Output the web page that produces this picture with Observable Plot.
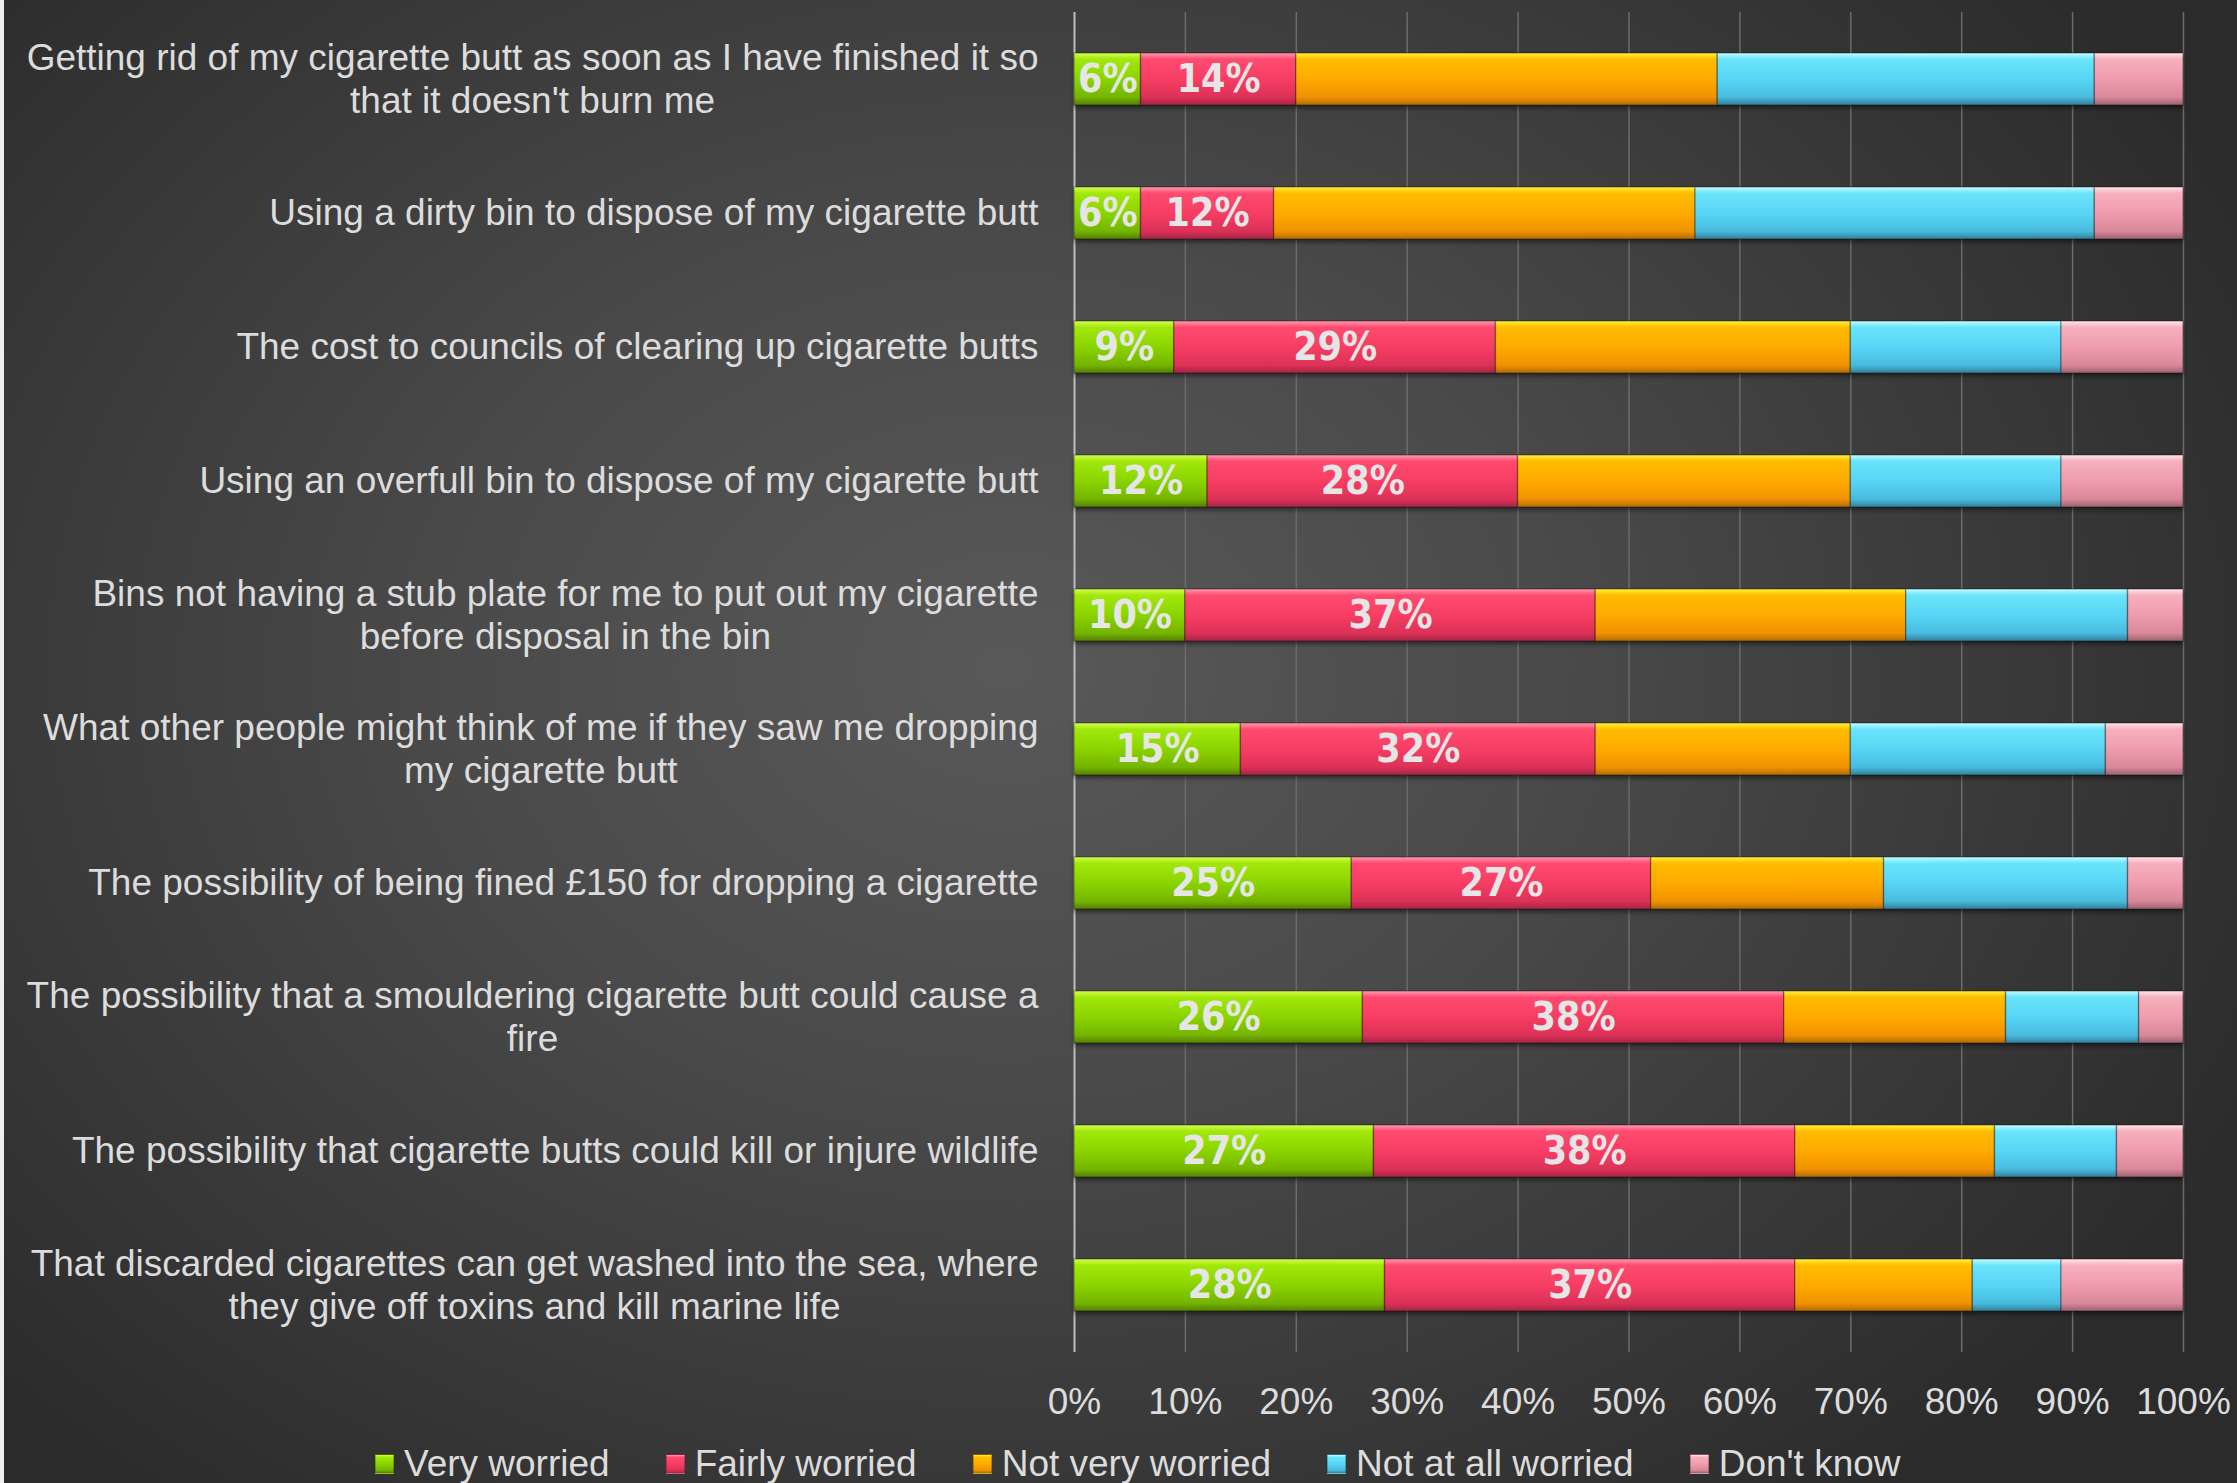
<!DOCTYPE html>
<html>
<head>
<meta charset="utf-8">
<script src="https://cdn.jsdelivr.net/npm/d3@7"></script>
<script src="https://cdn.jsdelivr.net/npm/@observablehq/plot@0.6"></script>
<style>
html, body { margin: 0; padding: 0; }
body {
  width: 2237px; height: 1483px; overflow: hidden; position: relative;
  background: radial-gradient(ellipse 62% 72% at 45% 45%, #595959 0%, #4a4a4a 40%, #2b2b2b 100%);
  font-family: "Liberation Sans", Arial, sans-serif;
}
#edge { position: absolute; left: 0; top: 0; width: 4px; height: 1483px; background: #efefef; }
#chart { position: absolute; left: 0; top: 0; }
#legend { position: absolute; left: 375px; top: 1443px; height: 42px; display: flex; align-items: center;
  color: #dcdcdc; font-size: 37px; white-space: nowrap; }
.item { display: flex; align-items: center; margin-right: 56px; }
.sw { width: 19px; height: 20px; margin-right: 10px; box-sizing: border-box; border: 1px solid rgba(0,0,0,0.25); }
</style>
</head>
<body>
<div id="edge"></div>
<div id="chart"></div>
<div id="legend"></div>
<script>
// ---------- data ----------
const categories = [
  "Getting rid of my cigarette butt as soon as I have finished it so that it doesn't burn me",
  "Using a dirty bin to dispose of my cigarette butt",
  "The cost to councils of clearing up cigarette butts",
  "Using an overfull bin to dispose of my cigarette butt",
  "Bins not having a stub plate for me to put out my cigarette before disposal in the bin",
  "What other people might think of me if they saw me dropping my cigarette butt",
  "The possibility of being fined £150 for dropping a cigarette",
  "The possibility that a smouldering cigarette butt could cause a fire",
  "The possibility that cigarette butts could kill or injure wildlife",
  "That discarded cigarettes can get washed into the sea, where they give off toxins and kill marine life"
];
const series = ["Very worried", "Fairly worried", "Not very worried", "Not at all worried", "Don't know"];
const veryWorried     = [6, 6, 9, 12, 10, 15, 25, 26, 27, 28];
const fairlyWorried   = [14, 12, 29, 28, 37, 32, 27, 38, 38, 37];
const notVeryWorried  = [38, 38, 32, 30, 28, 23, 21, 20, 18, 16];
const notAtAllWorried = [34, 36, 19, 19, 20, 23, 22, 12, 11, 8];
const dontKnow        = [8, 8, 11, 11, 5, 7, 5, 4, 6, 11];
const xTicks = [0, 10, 20, 30, 40, 50, 60, 70, 80, 90, 100];
const labeledSeries = ["Very worried", "Fairly worried"];

// ---------- palette (top highlight -> bottom shade) ----------
const palette = [
  ["#d6ff50", "#a2e80a", "#8ad400", "#74b400", "#557f00"],
  ["#ff9ab0", "#ff4a70", "#f73d63", "#dc3157", "#a82444"],
  ["#fff23a", "#ffbc00", "#ffaa00", "#f09200", "#b46c00"],
  ["#c4fdff", "#6ae4fb", "#58d5f5", "#48bbde", "#337f98"],
  ["#ffe6ec", "#f7b0bd", "#ef9dad", "#d88898", "#9c6270"]
];
const stopOffsets = [0, 0.12, 0.5, 0.85, 1];

const valuesBySeries = [veryWorried, fairlyWorried, notVeryWorried, notAtAllWorried, dontKnow];
const rows = categories.flatMap((c, i) => series.map((s, j) => ({category: c, series: s, value: valuesBySeries[j][i]})));

// ---------- wrapping of category labels ----------
const ctx = document.createElement("canvas").getContext("2d");
ctx.font = "37px 'Liberation Sans', Arial, sans-serif";
function wrap(s, maxW = 1030) {
  const words = s.split(" ");
  const lines = [];
  let cur = "";
  for (const w of words) {
    const t = cur ? cur + " " + w : w;
    if (ctx.measureText(t).width > maxW && cur) { lines.push(cur); cur = w; }
    else cur = t;
  }
  if (cur) lines.push(cur);
  return lines.join("\n");
}

const chart = Plot.plot({
  width: 2237,
  height: 1440,
  marginTop: 12,
  marginBottom: 88,
  marginLeft: 1074,
  marginRight: 54,
  style: {background: "transparent", color: "#dcdcdc", fontFamily: "'Liberation Sans', Arial, sans-serif", fontSize: "37px"},
  x: {domain: [0, 100], label: null},
  y: {domain: categories, paddingInner: 0.61, paddingOuter: 0.305, label: null},
  color: {type: "ordinal", domain: series, range: series.map((_, i) => `url(#grad${i})`)},
  marks: [
    Plot.gridX(xTicks.slice(1), {stroke: "#6b6b6b", strokeOpacity: 1, strokeWidth: 1.5}),
    Plot.ruleX([0], {stroke: "#bdbdbd", strokeWidth: 2}),
    Plot.barX(rows, Plot.stackX({x: "value", y: "category", fill: "series", stroke: "rgba(0,0,0,0.28)", strokeWidth: 1.5})),
    Plot.text(rows.filter(d => labeledSeries.includes(d.series)), Plot.stackX({
      x: "value", y: "category", z: "series", text: d => d.value + "%",
      fill: "#e6e6e6", fontSize: 39, fontWeight: "bold",
      fontFamily: "'DejaVu Sans Condensed', 'DejaVu Sans', sans-serif"
    })),
    Plot.axisX(xTicks, {tickSize: 0, tickPadding: 35, tickFormat: d => d + "%", fill: "#dcdcdc", label: null}),
    Plot.axisY({tickSize: 0, tickPadding: 36, tickFormat: d => wrap(d), fill: "#dcdcdc", label: null})
  ]
});

document.getElementById("chart").append(chart);

// gradients
const defs = d3.select(chart).insert("defs", ":first-child");
palette.forEach((stops, i) => {
  const g = defs.append("linearGradient").attr("id", `grad${i}`).attr("x1", 0).attr("y1", 0).attr("x2", 0).attr("y2", 1);
  stops.forEach((c, k) => g.append("stop").attr("offset", stopOffsets[k]).attr("stop-color", c));
});

// bar shadow
d3.select(chart).selectAll('g[aria-label="bar"]').style("filter", "drop-shadow(0px 3px 2px rgba(0,0,0,0.45))");
d3.select(chart).selectAll('g[aria-label="text"]').style("font-stretch", "condensed");

// centre multi-line category labels inside their right-aligned block
d3.select(chart).selectAll('g[aria-label="y-axis tick label"] text').each(function () {
  const tspans = Array.from(this.querySelectorAll("tspan"));
  const n = tspans.length;
  if (n < 2) return;
  let W = 0;
  tspans.forEach(t => { W = Math.max(W, t.getComputedTextLength()); });
  const x0 = +this.getAttribute("x") || 0;
  const y0 = +this.getAttribute("y") || 0;
  this.setAttribute("text-anchor", "middle");
  tspans.forEach((t, i) => {
    t.setAttribute("x", x0 - W / 2);
    t.removeAttribute("dy");
    t.setAttribute("y", y0 + (i - (n - 1) / 2) * 43 + 0.32 * 37);
  });
});

// legend
const legend = d3.select("#legend");
series.forEach((s, i) => {
  const item = legend.append("div").attr("class", "item");
  const p = palette[i];
  item.append("div").attr("class", "sw")
    .style("background", `linear-gradient(${p[0]} 0%, ${p[1]} 12%, ${p[2]} 50%, ${p[3]} 85%, ${p[4]} 100%)`);
  item.append("span").text(s);
});
</script>
</body>
</html>
